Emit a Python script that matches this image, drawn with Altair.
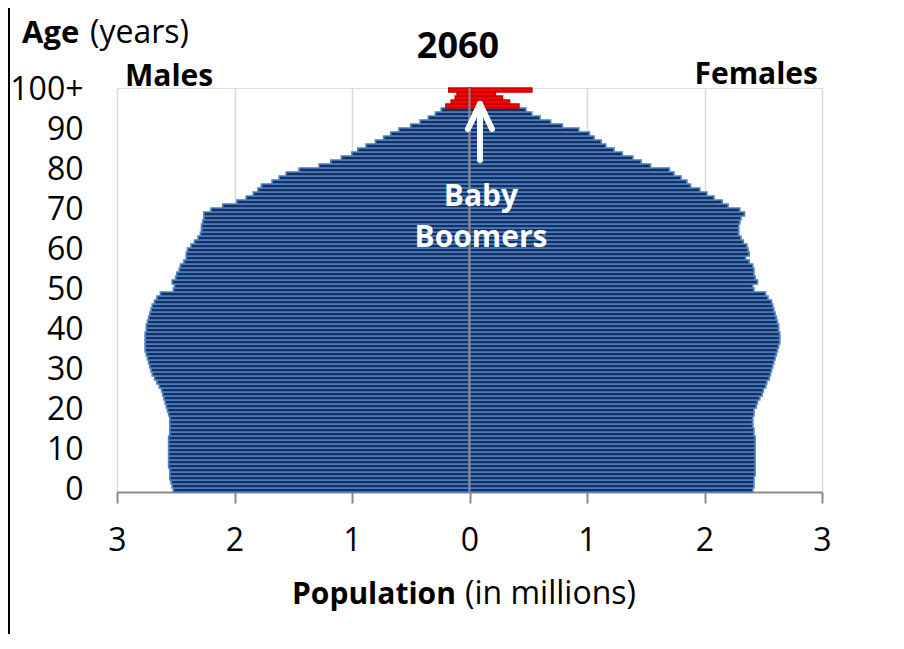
import altair as alt
import pandas as pd

# ---- data (population in millions, ages 0..100+) ----
ages = list(range(0, 101))

males = [
    2.52, 2.53, 2.54, 2.55, 2.55, 2.55, 2.56, 2.56, 2.56, 2.56,
    2.56, 2.56, 2.56, 2.56, 2.55, 2.55, 2.55, 2.55, 2.55, 2.56,
    2.57, 2.58, 2.59, 2.60, 2.61, 2.62, 2.64, 2.66, 2.68, 2.70,
    2.71, 2.72, 2.73, 2.74, 2.75, 2.76, 2.76, 2.76, 2.76, 2.76,
    2.75, 2.75, 2.74, 2.73, 2.72, 2.71, 2.70, 2.68, 2.66, 2.63,
    2.52, 2.51, 2.53, 2.50, 2.49, 2.47, 2.46, 2.43, 2.41, 2.41,
    2.40, 2.37, 2.34, 2.31, 2.29, 2.28, 2.28, 2.27, 2.26, 2.26,
    2.20, 2.10, 1.98, 1.90, 1.84, 1.80, 1.77, 1.68, 1.62, 1.56,
    1.45, 1.28, 1.18, 1.09, 1.00, 0.95, 0.88, 0.80, 0.73, 0.67,
    0.60, 0.50, 0.42, 0.35, 0.29, 0.24, 0.20, 0.155, 0.12, 0.105,
    0.176,
]

females = [
    2.41, 2.42, 2.42, 2.42, 2.43, 2.43, 2.43, 2.43, 2.43, 2.43,
    2.43, 2.43, 2.43, 2.43, 2.42, 2.42, 2.41, 2.41, 2.41, 2.42,
    2.42, 2.44, 2.45, 2.47, 2.49, 2.50, 2.52, 2.53, 2.55, 2.56,
    2.57, 2.58, 2.59, 2.60, 2.61, 2.62, 2.63, 2.64, 2.64, 2.64,
    2.63, 2.63, 2.62, 2.61, 2.60, 2.59, 2.58, 2.57, 2.54, 2.52,
    2.42, 2.41, 2.45, 2.43, 2.42, 2.42, 2.41, 2.38, 2.35, 2.38,
    2.37, 2.36, 2.33, 2.31, 2.29, 2.29, 2.29, 2.30, 2.31, 2.34,
    2.30, 2.20, 2.15, 2.08, 2.02, 1.96, 1.88, 1.85, 1.80, 1.74,
    1.70, 1.54, 1.46, 1.39, 1.30, 1.23, 1.16, 1.12, 1.06, 1.02,
    0.93, 0.79, 0.69, 0.60, 0.53, 0.48, 0.42, 0.34, 0.28, 0.22,
    0.53,
]

boomer_start_age = 96          # highlighted (red) ages, 96..100+
x_ticks = [-3, -2, -1, 0, 1, 2, 3]
y_ticks = [0, 10, 20, 30, 40, 50, 60, 70, 80, 90, 100]

rows = []
for a, m, f in zip(ages, males, females):
    grp = "boomer" if a >= boomer_start_age else "other"
    rows.append({"age": a, "sex": "Males", "pop": -m, "grp": grp})
    rows.append({"age": a, "sex": "Females", "pop": f, "grp": grp})
df = pd.DataFrame(rows)

FONT = "Open Sans"
GRAY = "#898989"
one = pd.DataFrame({"k": [0]})

W, H = 705, 404

bars = alt.Chart(df).mark_bar(strokeWidth=1.7).encode(
    x=alt.X(
        "pop:Q",
        scale=alt.Scale(domain=[-3, 3], nice=False, zero=False),
        axis=alt.Axis(
            values=x_ticks,
            labelExpr="abs(datum.value)",
            title=None,
            grid=True,
            gridColor="#D9D9D9",
            gridWidth=1.5,
            domainColor=GRAY,
            domainWidth=2,
            tickColor=GRAY,
            tickWidth=2,
            tickSize=11,
            labelFontSize=32,
            labelFont=FONT,
            labelColor="black",
            labelPadding=22,
            labelFlush=False,
        ),
    ),
    y=alt.Y(
        "age:O",
        sort="descending",
        scale=alt.Scale(paddingInner=0, paddingOuter=0),
        axis=alt.Axis(
            values=y_ticks,
            labelExpr="datum.value == 100 ? '100+' : datum.label",
            title=None,
            ticks=False,
            domain=False,
            grid=False,
            labelFontSize=32,
            labelFont=FONT,
            labelColor="black",
            labelPadding=34,
        ),
    ),
    color=alt.Color(
        "grp:N",
        scale=alt.Scale(domain=["other", "boomer"], range=["#132F66", "#FF0000"]),
        legend=None,
    ),
    stroke=alt.Stroke(
        "grp:N",
        scale=alt.Scale(domain=["other", "boomer"], range=["#4F81BD", "#C00000"]),
        legend=None,
    ),
)

center = alt.Chart(one).mark_rule(color=GRAY, strokeWidth=2).encode(
    x=alt.datum(0), y=alt.value(0), y2=alt.value(H)
)

def txt(text, x, y, size=30, bold=True, align="left", color="black"):
    return alt.Chart(one).mark_text(
        text=text,
        font=FONT,
        fontSize=size,
        fontWeight="bold" if bold else "normal",
        align=align,
        baseline="alphabetic",
        color=color,
    ).encode(x=alt.value(x), y=alt.value(y))

texts = [
    txt("2060", 341, -30, size=36, align="center"),
    txt("Males", 8, -2),
    txt("Females", 701, -4, align="right"),
    txt("Age", -95, -45, size=31),
    txt("(years)", -27, -45, size=32, bold=False),
    txt("Population", 175, 516),
    txt("(in millions)", 348, 516, size=32, bold=False),
    txt("Baby", 364, 118, align="center", color="white"),
    txt("Boomers", 364, 159, align="center", color="white"),
]

def seg(x1, y1, x2, y2, color="white", w=6):
    return alt.Chart(one).mark_rule(color=color, strokeWidth=w, strokeCap="round").encode(
        x=alt.value(x1), y=alt.value(y1), x2=alt.value(x2), y2=alt.value(y2)
    )

arrow = [
    seg(363, 16, 363, 72),
    seg(363, 16, 351, 41),
    seg(363, 16, 375, 41),
]

frame_line = seg(-108, -90, -108, 570, color="black", w=2)

chart = alt.layer(bars, center, *arrow, *texts, frame_line).properties(
    width=W,
    height=H,
    autosize=alt.AutoSizeParams(type="none"),
    padding={"left": 109, "top": 80, "right": 70, "bottom": 142},
).configure_view(stroke=GRAY, strokeWidth=2).configure(background="white")

chart.save("out.html", embed_options={"renderer": "svg", "actions": False})
